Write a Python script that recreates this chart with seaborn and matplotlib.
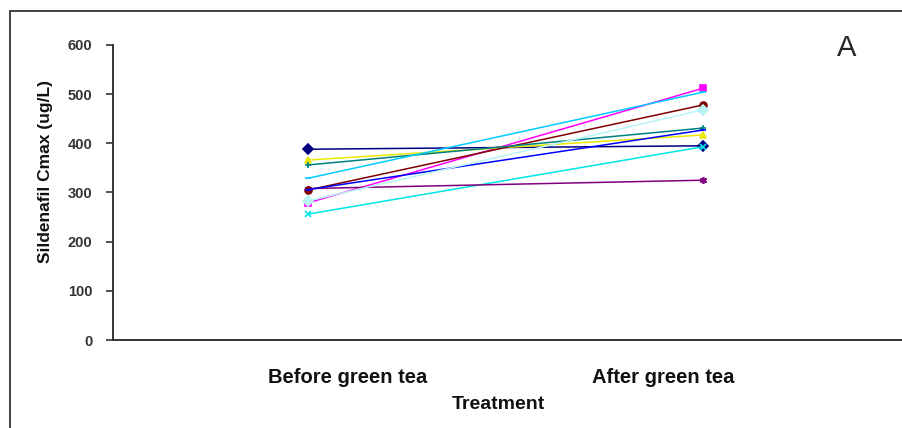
import matplotlib
matplotlib.use("Agg")
import matplotlib.pyplot as plt
import seaborn as sns
import pandas as pd

sns.set_style("white")
plt.rcParams["font.family"] = ["Liberation Sans", "DejaVu Sans"]

# data
phases = ["Before green tea", "After green tea"]
before = [388, 279, 366, 256, 308, 305, 356, 306, 329, 283]
after = [395, 512, 417, 393, 325, 478, 431, 427, 504, 468]
colors = ["#000080", "#FF00FF", "#E8E800", "#00E5E5", "#800080",
          "#800000", "#008080", "#0000FF", "#00CCFF", "#B8F4F4"]
markers = ["D", "s", "^", "x", (6, 2, 0), "o", "+", "_", "_", "D"]

rows = []
for i, (b, a) in enumerate(zip(before, after)):
    rows.append({"subject": i + 1, "pos": 0, "cmax": b})
    rows.append({"subject": i + 1, "pos": 1, "cmax": a})
df = pd.DataFrame(rows)

fig = plt.figure(figsize=(9.02, 4.28), dpi=100)
ax = fig.add_axes([0.1253, 0.2056, 0.8747, 0.6893])

for i, (subj, grp) in enumerate(df.groupby("subject")):
    sns.lineplot(data=grp, x="pos", y="cmax", color=colors[i], marker=markers[i],
                 markersize=5, markeredgecolor=colors[i], markeredgewidth=1.2,
                 linewidth=1.1, ax=ax, legend=False)

ax.set_xlim(-0.494, 1.504)
ax.set_ylim(0, 600)
ax.set_yticks(range(0, 601, 100))
ax.set_xticks([0.1, 0.9])
ax.set_xticklabels(phases, fontsize=14.5, fontweight="bold", color="#111111")
ax.tick_params(axis="x", length=0, pad=20)
ax.tick_params(axis="y", length=5, width=1.2, color="#333333", direction="out",
               left=True, pad=10, labelsize=10.5, labelcolor="#333333")
for lab in ax.get_yticklabels():
    lab.set_fontweight("bold")

for s in ["top", "right"]:
    ax.spines[s].set_visible(False)
for s in ["left", "bottom"]:
    ax.spines[s].set_color("#333333")
    ax.spines[s].set_linewidth(1.4)

ax.set_xlabel("Treatment", fontsize=14, fontweight="bold", color="#111111")
ax.xaxis.set_label_coords(0.488, -0.19)
ax.set_ylabel("Sildenafil Cmax (ug/L)", fontsize=12.5, fontweight="bold", color="#111111")
ax.yaxis.set_label_coords(-0.076, 0.57)

ax.text(0.9296, 0.99, "A", transform=ax.transAxes, fontsize=21,
        ha="center", va="center")

# outer frame (top and left visible in the reference)
fig.add_artist(plt.Line2D([0.011, 1.0], [0.974, 0.974], color="#404040", lw=1.4))
fig.add_artist(plt.Line2D([0.011, 0.011], [0.0, 0.974], color="#404040", lw=1.4))

fig.savefig("out.png", dpi=100)
